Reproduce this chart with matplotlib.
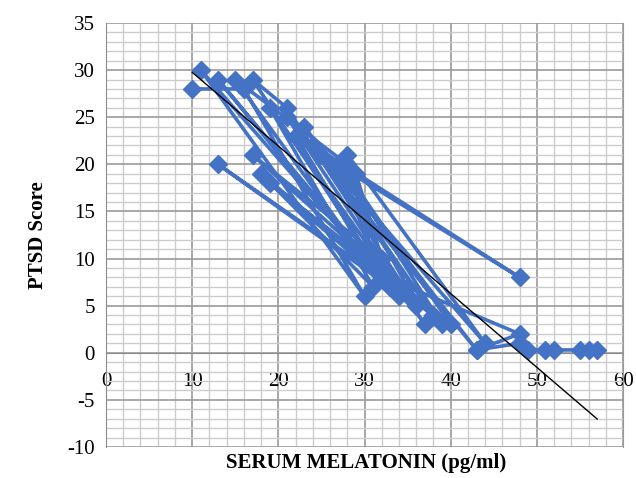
import matplotlib.pyplot as plt
from matplotlib.ticker import MultipleLocator

plt.rcParams['font.family'] = ['Liberation Serif', 'DejaVu Serif']
plt.rcParams['axes.unicode_minus'] = False

# serum melatonin (pg/ml) and PTSD score, in the order the rows were plotted
melatonin = [10, 16, 30, 11, 34, 13, 30, 15, 28, 33, 17, 21, 36, 13, 35,
             18, 31, 19, 37, 21, 43, 23, 38, 24, 48, 25, 44, 28, 32, 17,
             39, 28, 40, 19, 33, 29, 31, 22, 32, 27, 35, 48, 43, 48, 49,
             51, 52, 55, 56, 57]
ptsd = [28, 28, 6, 30, 6, 29, 10, 29, 20, 7, 29, 26, 5, 20, 6,
        19, 7, 26, 3, 25, 0.3, 24, 4, 22, 8, 21, 1, 21, 10, 21,
        3, 19, 3, 18, 7, 19, 9, 23, 8, 20, 7, 2, 0.3, 1, 0.3,
        0.3, 0.3, 0.3, 0.3, 0.3]

# linear trend drawn by the spreadsheet
trend_x = [10, 57]
slope, intercept = -0.783, 37.6

fig = plt.figure(figsize=(6.36, 4.78), dpi=100)
ax = fig.add_axes([0.1667, 0.0649, 0.8129, 0.887])

ax.plot(melatonin, ptsd, color='#4472C4', lw=2.6, marker='D', ms=9,
        zorder=3)
ax.plot(trend_x, [intercept + slope * x for x in trend_x], color='black',
        lw=1, zorder=4)

ax.set_xlim(0, 60)
ax.set_ylim(-10, 35)
ax.xaxis.set_major_locator(MultipleLocator(10))
ax.xaxis.set_minor_locator(MultipleLocator(2))
ax.yaxis.set_major_locator(MultipleLocator(5))
ax.yaxis.set_minor_locator(MultipleLocator(1))
ax.grid(which='major', color='#9a9a9a', lw=1.2)
ax.grid(which='minor', color='#cccccc', lw=1.0)
ax.set_axisbelow(True)

ax.spines['bottom'].set_position(('data', 0))
ax.spines['top'].set_visible(False)
ax.spines['right'].set_color('#9a9a9a')
ax.spines['left'].set_color('#8c8c8c')
ax.spines['bottom'].set_color('#8c8c8c')
ax.tick_params(which='both', length=0, labelsize=15)
ax.tick_params(axis='x', pad=14)
ax.tick_params(axis='y', pad=8)

ax.set_ylabel('PTSD Score', fontsize=15, fontweight='bold', labelpad=14)
fig.text(0.575, 0.02, 'SERUM MELATONIN (pg/ml)', ha='center',
         fontsize=15, fontweight='bold')

fig.savefig('out.png', dpi=100)
